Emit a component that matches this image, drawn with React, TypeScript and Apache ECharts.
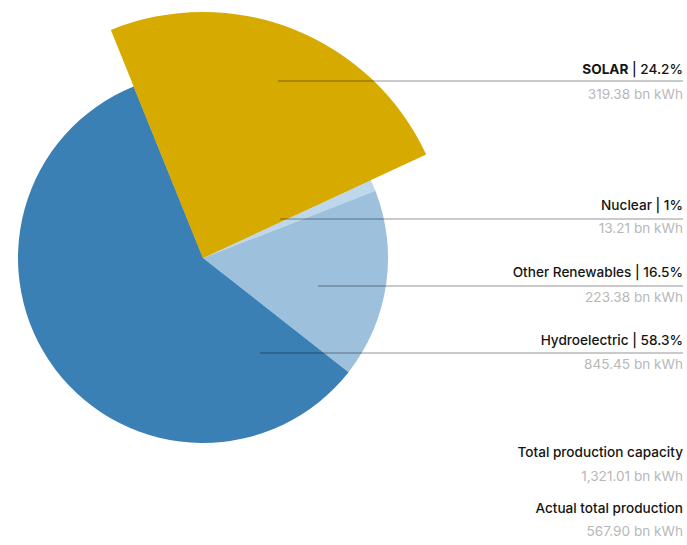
import React, { useEffect, useRef } from "react";
import * as echarts from "echarts";

const categories = ["SOLAR", "Nuclear", "Other Renewables", "Hydroelectric"];
const shares = [24.2, 1, 16.5, 58.3];
const energy = ["319.38", "13.21", "223.38", "845.45"];
const colors = ["#D7AA00", "#BED7EA", "#9DC0DC", "#3A80B5"];
const totalsLabels = ["Total production capacity", "Actual total production"];
const totalsValues = ["1,321.01", "567.90"];

// annotation layout
const headY = [69, 205, 272, 340];
const lineY = [81, 219, 286, 353];
const valY = [94, 228, 297, 364];
const lineStartX = [278, 280, 318, 260];
const rightX = 683;
const totalsHeadY = [452, 508];
const totalsValY = [476, 531];

const FONT = "Inter, 'Noto Sans', sans-serif";
const FS = 13.6;

export default function App() {
  const ref = useRef<HTMLDivElement>(null);
  useEffect(() => {
    if (!ref.current) return;
    const chart = echarts.init(ref.current, undefined, { renderer: "svg" });
    const baseData = categories.map((c, i) => ({
      name: c,
      value: shares[i],
      itemStyle: { color: colors[i] },
    }));
    const bigData = categories.map((c, i) => ({
      name: c,
      value: shares[i],
      itemStyle: { color: i === 0 ? colors[i] : "rgba(0,0,0,0)" },
    }));
    const graphics: any[] = [];
    categories.forEach((c, i) => {
      graphics.push({
        type: "line",
        shape: { x1: lineStartX[i], y1: lineY[i], x2: rightX, y2: lineY[i] },
        style: { stroke: "rgba(0,0,0,0.42)", lineWidth: 1 },
        z: 10,
      });
      graphics.push({
        type: "text",
        x: rightX,
        y: headY[i],
        style: {
          text: i === 0 ? `{b|${c}}{m| | ${shares[i]}%}` : `{m|${c} | ${shares[i]}%}`,
          align: "right",
          verticalAlign: "middle",
          rich: {
            b: { fontFamily: FONT, fontSize: FS, fontWeight: 700, fill: "#151515" },
            m: { fontFamily: FONT, fontSize: FS, fontWeight: 500, fill: "#151515" },
          },
        },
        z: 10,
      });
      graphics.push({
        type: "text",
        x: rightX,
        y: valY[i],
        style: {
          text: `${energy[i]} bn kWh`,
          align: "right",
          verticalAlign: "middle",
          fontFamily: FONT,
          fontSize: FS,
          fill: "#b8b8b8",
        },
        z: 10,
      });
    });
    totalsLabels.forEach((t, i) => {
      graphics.push({
        type: "text",
        x: rightX,
        y: totalsHeadY[i],
        style: {
          text: t,
          align: "right",
          verticalAlign: "middle",
          fontFamily: FONT,
          fontSize: FS,
          fontWeight: 500,
          fill: "#151515",
        },
      });
      graphics.push({
        type: "text",
        x: rightX,
        y: totalsValY[i],
        style: {
          text: `${totalsValues[i]} bn kWh`,
          align: "right",
          verticalAlign: "middle",
          fontFamily: FONT,
          fontSize: FS,
          fill: "#b8b8b8",
        },
      });
    });
    chart.setOption({
      animation: false,
      backgroundColor: "#ffffff",
      series: [
        {
          type: "pie",
          center: [203, 258],
          radius: [0, 185],
          startAngle: 112,
          clockwise: true,
          silent: true,
          label: { show: false },
          labelLine: { show: false },
          itemStyle: { borderWidth: 0 },
          data: baseData,
          z: 1,
        },
        {
          type: "pie",
          center: [203, 258],
          radius: [0, 246],
          startAngle: 112,
          clockwise: true,
          silent: true,
          label: { show: false },
          labelLine: { show: false },
          itemStyle: { borderWidth: 0 },
          data: bigData,
          z: 2,
        },
      ],
      graphic: graphics,
    });
    return () => chart.dispose();
  }, []);
  return (
    <div
      ref={ref}
      style={{ position: "fixed", left: 0, top: 0, width: 687, height: 545 }}
    />
  );
}
